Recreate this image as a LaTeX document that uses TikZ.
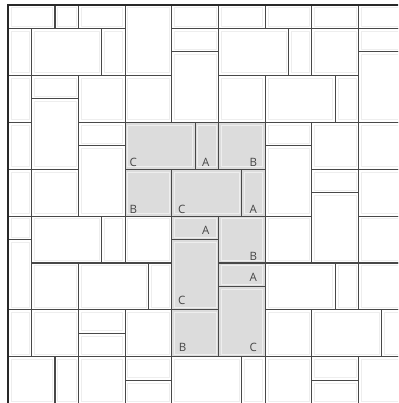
\documentclass[tikz,border=0pt]{standalone}
\usepackage{fontspec}
\setmainfont{Open Sans}
\definecolor{tileline}{RGB}{72,72,72}
\definecolor{texture}{RGB}{238,238,238}
\definecolor{shade}{RGB}{220,220,220}
\definecolor{bordercol}{RGB}{40,40,40}
\definecolor{labelcol}{RGB}{70,70,70}
\begin{document}
\begin{tikzpicture}[x=1pt,y=1pt,
  tile/.style={draw=tileline,line width=1.1pt},
  tex/.style={draw=texture,line width=0.5pt},
  shadetile/.style={fill=shade},
  lab/.style={text=labelcol,font=\fontsize{11.5}{12}\selectfont,inner sep=0pt,anchor=center}]
\useasboundingbox (0,0) rectangle (398,-403);
\fill[white] (0,0) rectangle (398,-403);
\begin{scope}
\clip (0,0) rectangle (398,-403);
\begin{scope}[x=23.35pt,y=-23.45pt,shift={(8.3pt,-5pt)}]
  % shaded tiles
  \foreach \a/\b/\c/\d in {5/5/8/7, 8/5/9/7, 9/5/11/7, 5/7/7/9, 7/7/10/9, 10/7/11/9,
      7/9/9/10, 9/9/11/11, 7/10/9/13, 9/11/11/12, 9/12/11/15, 7/13/9/15}
    \fill[shadetile] (\a,\b) rectangle (\c,\d);
  % all tiles: faint texture then outlines
  \foreach \a/\b/\c/\d in {
      0/0/2/1, 2/0/3/1, 3/0/5/1, 5/0/7/3, 7/0/9/1, 9/0/11/1, 11/0/13/1, 13/0/15/1, 15/0/17/1,
      0/1/1/3, 1/1/4/3, 4/1/5/3, 7/1/9/2, 9/1/12/3, 12/1/13/3, 13/1/15/3, 15/1/17/2,
      7/2/9/5, 15/2/17/5,
      0/3/1/5, 1/3/3/4, 3/3/5/5, 5/3/7/5, 9/3/11/5, 11/3/14/5, 14/3/15/5,
      1/4/3/7,
      0/5/1/7, 3/5/5/6, 5/5/8/7, 8/5/9/7, 9/5/11/7, 11/5/13/6, 13/5/15/7, 15/5/17/7,
      3/6/5/9, 11/6/13/9,
      0/7/1/9, 1/7/3/9, 5/7/7/9, 7/7/10/9, 10/7/11/9, 13/7/15/8, 15/7/17/9,
      13/8/15/11,
      0/9/1/10, 1/9/4/11, 4/9/5/11, 5/9/7/11, 7/9/9/10, 9/9/11/11, 11/9/13/11, 15/9/17/11,
      0/10/1/13, 7/10/9/13,
      1/11/3/13, 3/11/6/13, 6/11/7/13, 9/11/11/12, 11/11/14/13, 14/11/15/13, 15/11/17/13,
      9/12/11/15,
      0/13/1/15, 1/13/3/15, 3/13/5/14, 3/14/5/15, 5/13/7/15, 7/13/9/15, 11/13/13/15, 13/13/16/15, 16/13/17/15,
      0/15/2/17, 2/15/3/17, 3/15/5/17, 5/15/7/16, 5/16/7/17, 7/15/10/17, 10/15/11/17, 11/15/13/17,
      13/15/15/16, 13/16/15/17, 15/15/17/17}
  {
    \draw[tex] ([shift={(2.6pt,-2.6pt)}]\a,\b) rectangle ([shift={(-2.6pt,2.6pt)}]\c,\d);
    \draw[tile] (\a,\b) rectangle (\c,\d);
  }
\end{scope}
\end{scope}
% outer border (top and left)
\draw[bordercol,line width=2.2pt] (8.3,-403) -- (8.3,-5) -- (398,-5);
% labels
\node[lab] (c1) at (133.3,-162.3) {C};
\node[lab] (a1) at (205.7,-162.3) {A};
\node[lab] (b1) at (253.3,-162.3) {B};
\node[lab] (b2) at (133.3,-209) {B};
\node[lab] (c2) at (181.7,-209) {C};
\node[lab] (a2) at (253.3,-209) {A};
\node[lab] (a3) at (205.7,-230) {A};
\node[lab] (b3) at (253.3,-256.5) {B};
\node[lab] (a4) at (253.3,-277.3) {A};
\node[lab] (c3) at (181.7,-300) {C};
\node[lab] (b4) at (182.7,-347.3) {B};
\node[lab] (c4) at (253.3,-347.3) {C};
\end{tikzpicture}
\end{document}
